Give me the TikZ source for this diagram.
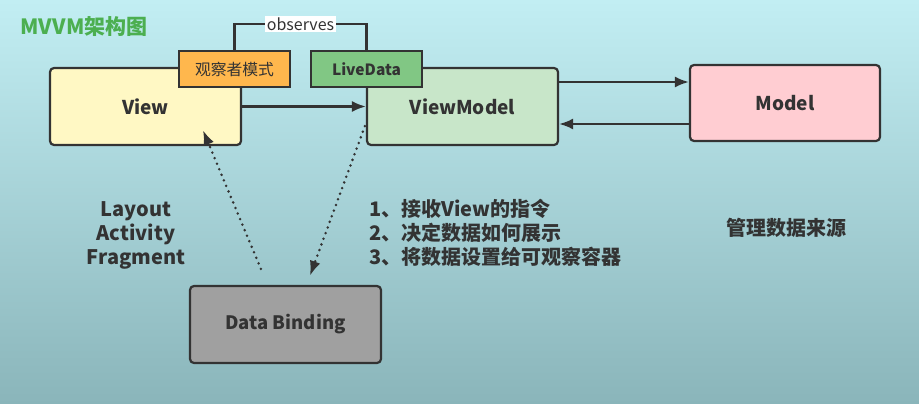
\documentclass[tikz,border=0pt]{standalone}
\usepackage{fontspec}
\setmainfont{Noto Sans CJK SC}
\usepackage{tikz}
\usetikzlibrary{positioning,calc,arrows.meta}

\definecolor{bgtop}{HTML}{C2EEF3}
\definecolor{bgbot}{HTML}{8AB5BA}
\definecolor{ink}{HTML}{333333}
\definecolor{viewfill}{HTML}{FFF8C4}
\definecolor{vmfill}{HTML}{C8E6C9}
\definecolor{modelfill}{HTML}{FFCDD2}
\definecolor{dbfill}{HTML}{A0A0A0}
\definecolor{obsfill}{HTML}{FFB74D}
\definecolor{ldfill}{HTML}{81C784}
\definecolor{titlegreen}{HTML}{4CAF50}

\tikzset{
	bigbox/.style={draw=ink, line width=2.2pt, rounded corners=4pt,
		minimum width=191pt, minimum height=77pt, text=ink,
		font=\fontsize{19}{22}\selectfont\bfseries},
	tagbox/.style={draw=ink, line width=2.2pt,
		minimum width=111pt, minimum height=36pt, text=ink,
		font=\fontsize{15.5}{18}\selectfont\bfseries},
	link/.style={draw=ink, line width=2.2pt, -{Latex[length=14pt,width=11pt]}},
	dotlink/.style={draw=ink, line width=2.8pt, line cap=round,
		dash pattern=on 0pt off 6pt, -{Latex[length=15pt,width=11pt]}},
	note/.style={text=ink, font=\fontsize{20}{24}\selectfont\bfseries}
}

\begin{document}
\begin{tikzpicture}[x=1pt,y=-1pt]
		\shade[top color=bgtop, bottom color=bgbot] (0,0) rectangle (919,404);
		\useasboundingbox (0,0) rectangle (919,404);

		\node[text=titlegreen, anchor=west,
			font=\fontsize{21}{24}\selectfont\bfseries] (title) at (17,27) {MVVM架构图};

		\node[bigbox, fill=viewfill] (view) at (145.5,106.5) {View};
		\node[bigbox, fill=vmfill] (vm) at (462.5,106.5) {ViewModel};
		\node[bigbox, fill=modelfill, minimum width=190pt, minimum height=76pt]
			(model) at (785,103) {Model};
		\node[bigbox, fill=dbfill, font=\fontsize{18.5}{21}\selectfont\bfseries]
			(db) at (285.5,324.5) {Data Binding};

		\node[tagbox, fill=obsfill, font=\fontsize{15.8}{18}\selectfont] (observer) at (234.5,69) {观察者模式};
		\node[tagbox, fill=ldfill] (livedata) at (366.5,69) {LiveData};

		% observes link between the two tags
		\coordinate (obsleft) at (observer.north |- 0,24);
		\coordinate (obsright) at (livedata.north |- 0,24);
		\draw[ink, line width=2.2pt] (observer.north) -- (obsleft) -- (obsright) -- (livedata.north);
		\node[fill=white, inner sep=2pt, text=ink,
			font=\fontsize{16}{18}\selectfont] (obslabel) at ($(obsleft)!0.5!(obsright)$) {observes};

		\draw[link] (view.east) -- (vm.west);
		\draw[link] (vm.east |- 0,82) -- (model.west |- 0,82);
		\draw[link] (model.west |- 0,124) -- (vm.east |- 0,124);

		% dotted links to data binding
		\coordinate (dbout) at ($(db.north west)+(72,-16)$);
		\coordinate (viewin) at ($(view.south west)+(154,-16)$);
		\coordinate (vmout) at ($(vm.south west)+(-1,-20)$);
		\coordinate (dbin) at ($(db.north west)+(121,-9)$);
		\draw[dotlink] (dbout) -- (viewin);
		\draw[dotlink] (vmout) -- (dbin);

		\node[note, align=center] (views) at (136,235) {Layout\\Activity\\Fragment};
		\node[note, align=left, anchor=west] (vmnote) at (366,233)
			{1、接收View的指令\\2、决定数据如何展示\\3、将数据设置给可观察容器};
		\node[note] (modelnote) at (786,228) {管理数据来源};

	\end{tikzpicture}
\end{document}
